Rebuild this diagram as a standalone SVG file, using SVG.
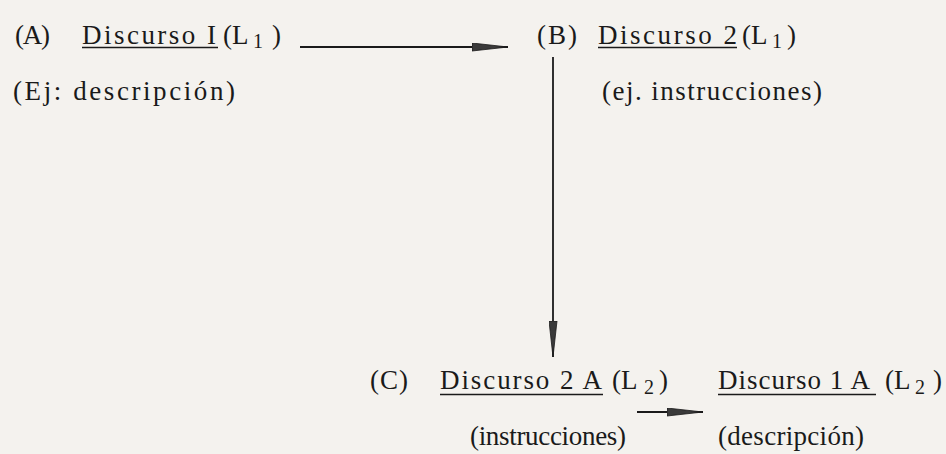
<svg xmlns="http://www.w3.org/2000/svg" width="946" height="454" viewBox="0 0 946 454">
<defs>
<style>
.t{font-family:"Liberation Serif","Times New Roman",serif;font-size:27px;fill:#1a1a1a}
.s{font-size:20px}
.ul{stroke:#1a1a1a;stroke-width:1.6}
.ln{stroke:#1a1a1a;stroke-width:1.8;fill:none}
</style>
<marker id="head" viewBox="0 0 36 9" refX="36" refY="4.5" markerWidth="36" markerHeight="9" markerUnits="userSpaceOnUse" orient="auto">
<path d="M0,0.5 L36,4.5 L0,8.5 Z" fill="#3a3a3a" stroke="#1a1a1a" stroke-width="0.8"/>
</marker>
</defs>
<rect width="946" height="454" fill="#f4f2ee"/>
<g id="nodeA">
<text class="t" x="15" y="44" textLength="35" lengthAdjust="spacing">(A)</text>
<text class="t" x="82" y="44" textLength="134" lengthAdjust="spacing">Discurso I</text>
<line class="ul" x1="82" y1="47.5" x2="218" y2="47.5"/>
<text class="t" x="223" y="44">(L<tspan class="s" x="253" dy="4">1</tspan><tspan x="272" dy="-4">)</tspan></text>
<text class="t" x="13" y="100" textLength="222" lengthAdjust="spacing">(Ej: descripción)</text>
</g>
<g id="nodeB">
<text class="t" x="537" y="44" textLength="40" lengthAdjust="spacing">(B)</text>
<text class="t" x="598" y="44" textLength="139" lengthAdjust="spacing">Discurso 2</text>
<line class="ul" x1="598" y1="47.5" x2="737" y2="47.5"/>
<text class="t" x="742" y="44">(L<tspan class="s" x="772" dy="4">1</tspan><tspan x="787" dy="-4">)</tspan></text>
<text class="t" x="602" y="100" textLength="220" lengthAdjust="spacing">(ej. instrucciones)</text>
</g>
<g id="nodeC">
<text class="t" x="370" y="389" textLength="38" lengthAdjust="spacing">(C)</text>
<text class="t" x="440" y="389" textLength="162" lengthAdjust="spacing">Discurso 2 A</text>
<line class="ul" x1="440" y1="394.5" x2="603" y2="394.5"/>
<text class="t" x="612" y="389">(L<tspan class="s" x="644" dy="5">2</tspan><tspan x="659" dy="-5">)</tspan></text>
<text class="t" x="470" y="445" textLength="156" lengthAdjust="spacing">(instrucciones)</text>
</g>
<g id="nodeD">
<text class="t" x="718" y="389" textLength="152" lengthAdjust="spacing">Discurso 1 A</text>
<line class="ul" x1="718" y1="394.5" x2="876" y2="394.5"/>
<text class="t" x="885" y="389">(L<tspan class="s" x="915" dy="5">2</tspan><tspan x="933" dy="-5">)</tspan></text>
<text class="t" x="718" y="445" textLength="146" lengthAdjust="spacing">(descripción)</text>
</g>
<g id="connectors">
<line class="ln" x1="300" y1="47" x2="508" y2="47" marker-end="url(#head)"/>
<line class="ln" x1="553" y1="57" x2="553" y2="357" marker-end="url(#head)"/>
<line class="ln" x1="637" y1="412" x2="703" y2="412" marker-end="url(#head)"/>
</g>
</svg>
